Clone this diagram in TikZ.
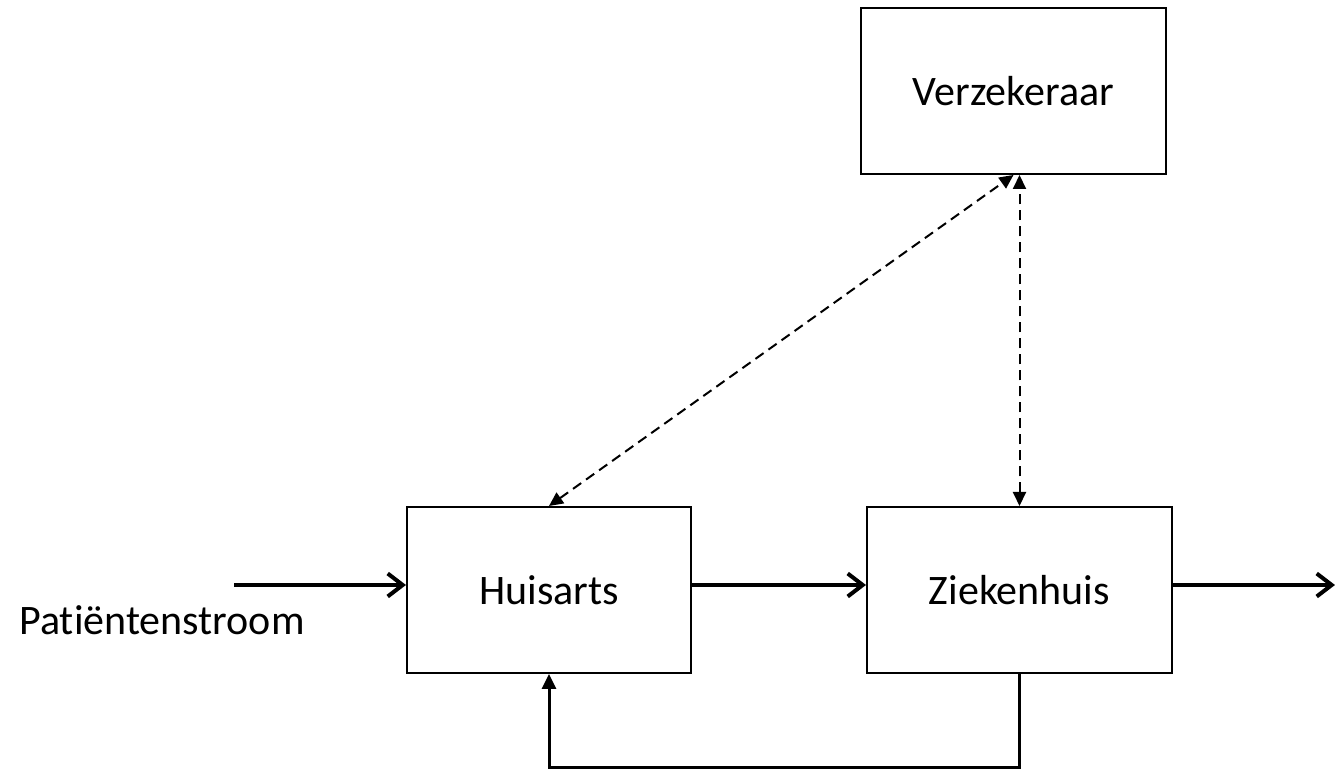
\documentclass[tikz,border=0pt]{standalone}
\usepackage{fontspec}
\setmainfont{Carlito}[Ligatures=NoCommon]
\usepackage{tikz}
\usetikzlibrary{positioning,calc,arrows.meta}

\begin{document}
\begin{tikzpicture}[x=0.5pt, y=-0.5pt,
    font=\fontsize{21}{25}\selectfont,
    box/.style={draw, line width=1pt, minimum width=152.5pt, minimum height=83pt},
    flow/.style={line width=2pt, -{Straight Barb[length=7.5pt, width=11.5pt]}},
    back/.style={line width=1.5pt, -{Triangle[length=7.5pt, width=7pt]}},
    money/.style={line width=1pt, dash pattern=on 5pt off 3pt, {Triangle[length=7pt, width=6.5pt]}-{Triangle[length=7pt, width=6.5pt]}}]
    \useasboundingbox (0,0) rectangle (1335,769);

    % Actoren
    \node[box, minimum width=142pt] (huis) at (549,590) {Huisarts};
    \node[box, right=87pt of huis] (zieken) {Ziekenhuis};
    \node[box] (verz) at (1013.5,91) {Verzekeraar};

    % Patientenstroom
    \coordinate (in) at (234,585);
    \coordinate (out) at (1335,585);
    \node (stroom) at (162,620) {Patiëntenstroom};
    \draw[flow] (in) -- (in -| huis.west);
    \draw[flow] ([yshift=2.5pt]huis.east) -- ([yshift=2.5pt]zieken.west);
    \draw[flow] ([yshift=2.5pt]zieken.east) -- (out);

    % Terugverwijzing
    \draw[back] (zieken.south) -- ++(0,94) -| (huis.south);

    % Verzekeraar
    \draw[money] (huis.north) -- (verz.south);
    \draw[money] (zieken.north) -- (zieken.north |- verz.south);
\end{tikzpicture}
\end{document}
